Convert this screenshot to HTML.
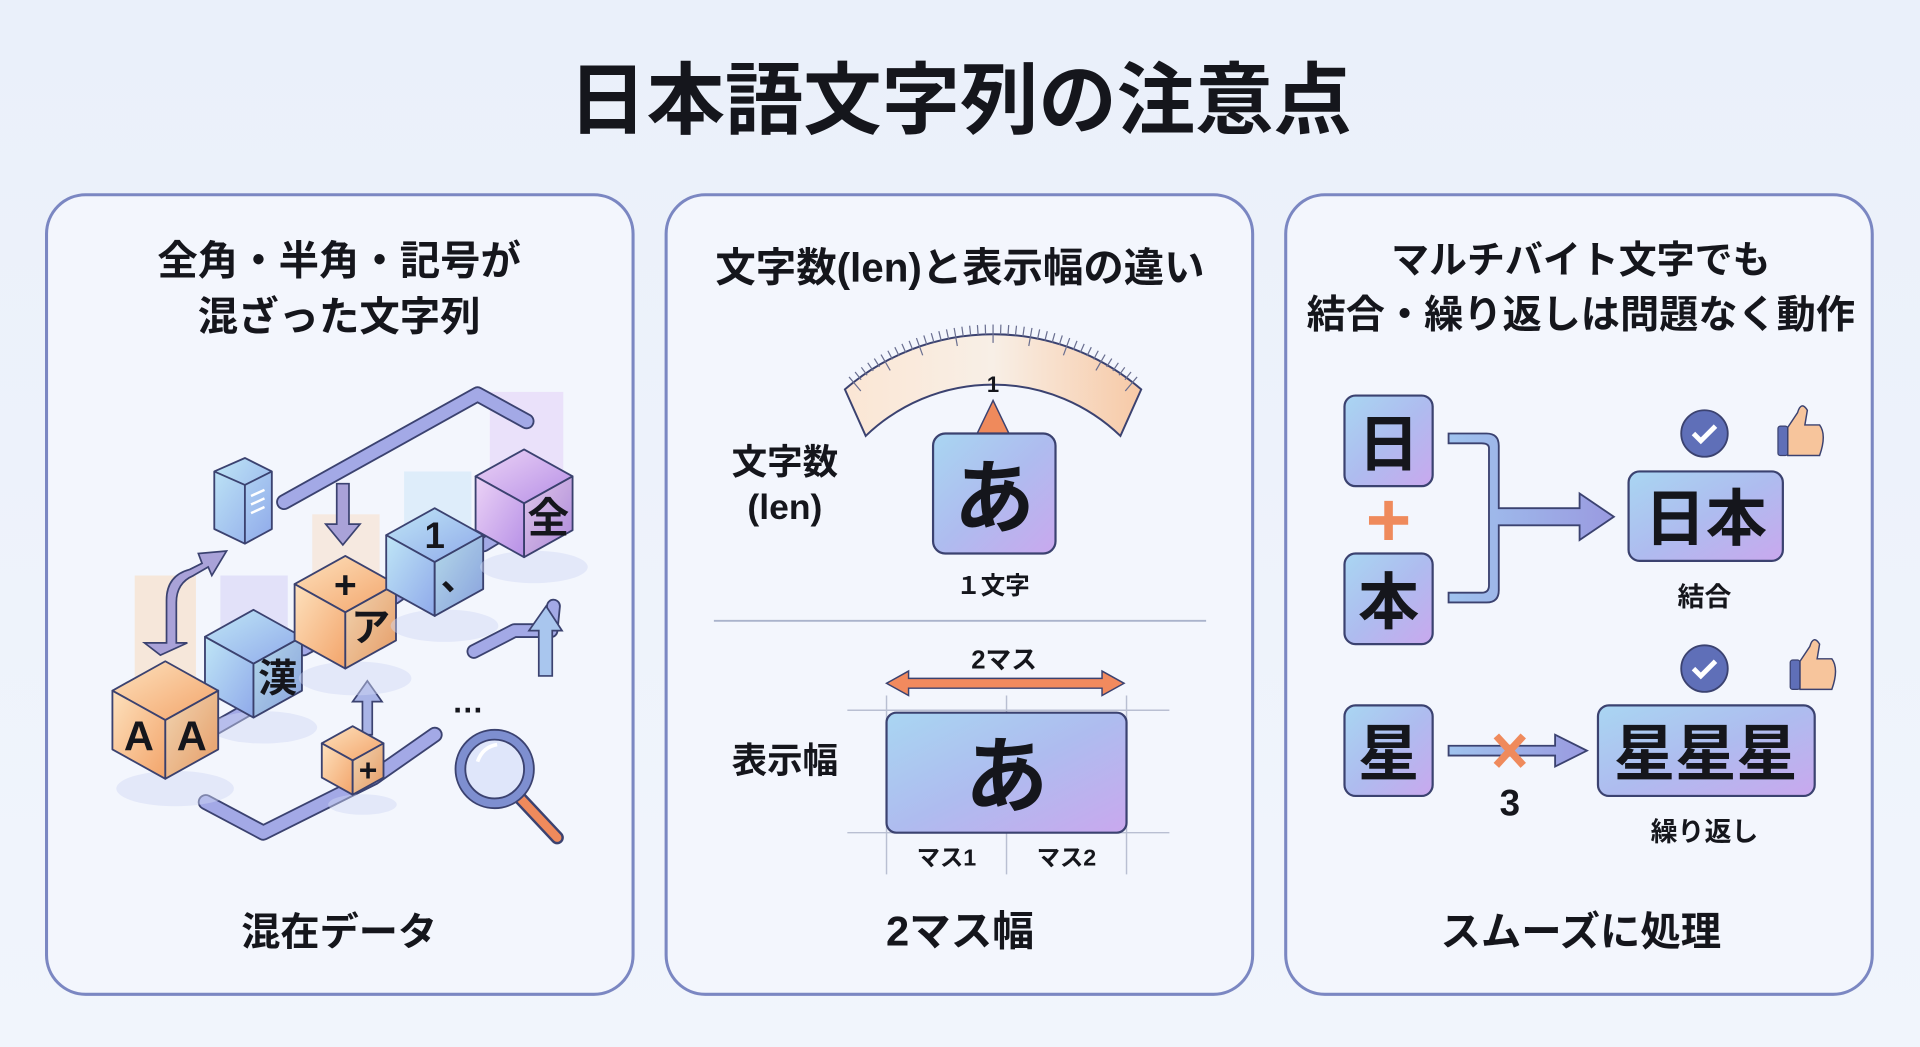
<!DOCTYPE html>
<html><head><meta charset="utf-8">
<style>
html,body{margin:0;padding:0;width:1920px;height:1047px;overflow:hidden;background:#eef3fb;}
svg{display:block}
text{font-family:"Liberation Sans","Noto Sans CJK JP",sans-serif;font-weight:bold;fill:#15161c}
</style></head><body>
<svg id="s" width="1920" height="1047" viewBox="0 0 1568 855" xmlns="http://www.w3.org/2000/svg">
<defs>
<linearGradient id="bg" x1="0" y1="0" x2="0" y2="1"><stop offset="0" stop-color="#eaf0fa"/><stop offset="1" stop-color="#f1f5fc"/></linearGradient>
<linearGradient id="box" x1="0" y1="0" x2="1" y2="1"><stop offset="0" stop-color="#a9d6f2"/><stop offset="0.5" stop-color="#aebcef"/><stop offset="1" stop-color="#c9a8ee"/></linearGradient>
<linearGradient id="gauge" x1="0" y1="0" x2="1" y2="0"><stop offset="0" stop-color="#fbe6d4"/><stop offset="0.5" stop-color="#f8efe6"/><stop offset="1" stop-color="#f7c9a6"/></linearGradient>
<linearGradient id="org" x1="0" y1="0" x2="1" y2="1"><stop offset="0" stop-color="#fde1bd"/><stop offset="1" stop-color="#f3a46a"/></linearGradient>
<linearGradient id="blu" x1="0" y1="0" x2="1" y2="1"><stop offset="0" stop-color="#bfe6f6"/><stop offset="1" stop-color="#8fa9ea"/></linearGradient>
<linearGradient id="pur" x1="0" y1="0" x2="1" y2="1"><stop offset="0" stop-color="#ecd3f6"/><stop offset="1" stop-color="#b68fe6"/></linearGradient>
<linearGradient id="pipe" x1="0" y1="0" x2="1" y2="0"><stop offset="0" stop-color="#9fc3ee"/><stop offset="1" stop-color="#9a9ae0"/></linearGradient>
</defs>
<rect width="1568" height="855" fill="url(#bg)"/>
<text x="784" y="104" font-size="64" text-anchor="middle">日本語文字列の注意点</text>

<g fill="#f3f6fd" stroke="#7b87c2" stroke-width="2.5">
<rect x="38" y="159" width="479" height="653" rx="32"/>
<rect x="544" y="159" width="479" height="653" rx="32"/>
<rect x="1050" y="159" width="479" height="653" rx="32"/>
</g>

<!-- panel 1 -->
<text x="277" y="224" font-size="33" text-anchor="middle">全角・半角・記号が</text>
<text x="277" y="270" font-size="33" text-anchor="middle">混ざった文字列</text>
<text x="277" y="772" font-size="32" text-anchor="middle">混在データ</text>
<g id="p1"></g>

<!-- panel 2 -->
<text x="784" y="230" font-size="33" text-anchor="middle">文字数(len)と表示幅の違い</text>
<text x="641" y="387" font-size="29" text-anchor="middle">文字数</text>
<text x="641" y="424" font-size="29" text-anchor="middle">(len)</text>
<path d="M690,318 A185,185 0 0 1 932,318 L915,356 A150,150 0 0 0 707,356 Z" fill="url(#gauge)" stroke="#3b4270" stroke-width="1.6"/>
<g id="ticks" stroke="#6a6f90" stroke-width="1"></g>
<text x="811" y="320" font-size="18" text-anchor="middle">1</text>
<polygon points="811,327 798,354 824,354" fill="#ef8a5c" stroke="#3b4270" stroke-width="1.2"/>
<rect x="762" y="354" width="100" height="98" rx="10" fill="url(#box)" stroke="#3b4270" stroke-width="1.8"/>
<text x="812" y="430" font-size="66" text-anchor="middle">あ</text>
<text x="811" y="485" font-size="20" text-anchor="middle">１文字</text>
<line x1="583" y1="507" x2="985" y2="507" stroke="#aab3cc" stroke-width="1.5"/>
<text x="820" y="546" font-size="21" text-anchor="middle">2マス</text>
<g stroke="#b9bfd2" stroke-width="1.2">
<line x1="724" y1="568" x2="724" y2="714"/><line x1="822" y1="568" x2="822" y2="714"/><line x1="920" y1="568" x2="920" y2="714"/>
<line x1="692" y1="580" x2="955" y2="580"/><line x1="692" y1="680" x2="955" y2="680"/>
</g>
<g fill="#f28a5e" stroke="#3b4270" stroke-width="1.2">
<path d="M724,558 L742,548 L742,554 L900,554 L900,548 L918,558 L900,568 L900,562 L742,562 L742,568 Z"/>
</g>
<rect x="724" y="582" width="196" height="98" rx="8" fill="url(#box)" stroke="#3b4270" stroke-width="1.8"/>
<text x="822" y="658" font-size="68" text-anchor="middle">あ</text>
<text x="773" y="707" font-size="19" text-anchor="middle">マス1</text>
<text x="871" y="707" font-size="19" text-anchor="middle">マス2</text>
<text x="641" y="631" font-size="29" text-anchor="middle">表示幅</text>
<text x="784" y="772" font-size="34" text-anchor="middle">2マス幅</text>

<!-- panel 3 -->
<text x="1291" y="223" font-size="31" text-anchor="middle">マルチバイト文字でも</text>
<text x="1291" y="268" font-size="32" text-anchor="middle">結合・繰り返しは問題なく動作</text>
<text x="1291" y="772" font-size="33" text-anchor="middle">スムーズに処理</text>
<g stroke="#3b4270" stroke-width="1.8" fill="url(#box)">
<rect x="1098" y="323" width="72" height="74" rx="9"/>
<rect x="1098" y="452" width="72" height="74" rx="9"/>
<rect x="1330" y="385" width="126" height="73" rx="9"/>
<rect x="1098" y="576" width="72" height="74" rx="9"/>
<rect x="1305" y="576" width="177" height="74" rx="9"/>
</g>
<text x="1134" y="380" font-size="50" text-anchor="middle">日</text>
<text x="1134" y="509" font-size="50" text-anchor="middle">本</text>
<text x="1393" y="441" font-size="50" text-anchor="middle">日本</text>
<text x="1134" y="633" font-size="50" text-anchor="middle">星</text>
<text x="1393" y="633" font-size="50" text-anchor="middle">星星星</text>
<path d="M1118,425 h32 M1134,409 v32" stroke="#ef8a5c" stroke-width="7"/>
<path d="M1183,354 H1214 Q1224,354 1224,364 V415 H1290 V403 L1318,422 L1290,441 V429 H1224 V482 Q1224,492 1214,492 H1183 V484 H1210 Q1216,484 1216,478 V366 Q1216,362 1210,362 H1183 Z" fill="url(#pipe)" stroke="#3b4270" stroke-width="1.5"/>
<path d="M1183,609 H1270 V600 L1296,613 L1270,626 V617 H1183 Z" fill="url(#pipe)" stroke="#3b4270" stroke-width="1.5"/>
<path d="M1222,601 L1244,625 M1244,601 L1222,625" stroke="#ef8a5c" stroke-width="6"/>
<text x="1233" y="666" font-size="30" text-anchor="middle">3</text>
<text x="1392" y="495" font-size="22" text-anchor="middle">結合</text>
<text x="1392" y="687" font-size="22" text-anchor="middle">繰り返し</text>
<g>
<circle cx="1392" cy="354" r="19" fill="#5f6fb8" stroke="#3b4270" stroke-width="1.5"/>
<path d="M1383,354 l6,6 l12,-12" stroke="#fff" stroke-width="4" fill="none"/>
<circle cx="1392" cy="546" r="19" fill="#5f6fb8" stroke="#3b4270" stroke-width="1.5"/>
<path d="M1383,546 l6,6 l12,-12" stroke="#fff" stroke-width="4" fill="none"/>
</g>
<g id="thumbs"></g>
</svg>
<script>
var NS="http://www.w3.org/2000/svg";
function el(p,t,a,txt){var e=document.createElementNS(NS,t);for(var k in a)e.setAttribute(k,a[k]);if(txt!==undefined)e.textContent=txt;p.appendChild(e);return e;}
var tk=document.getElementById('ticks');
var cx=811,cy=448;
for(var i=0;i<=40;i++){var ang=(-130+i*2)*Math.PI/180;var r1=183,r2=(i%5==0)?168:175;
 el(tk,'line',{x1:cx+r1*Math.cos(ang),y1:cy+r1*Math.sin(ang),x2:cx+r2*Math.cos(ang),y2:cy+r2*Math.sin(ang)});}
var th=document.getElementById('thumbs');
[[1468,355],[1478,546]].forEach(function(p){var x=p[0],y=p[1];
 el(th,'rect',{x:x-16,y:y-7,width:8,height:24,rx:2,fill:'#5f6fb8',stroke:'#3b4270','stroke-width':1});
 el(th,'path',{d:'M'+(x-8)+','+(y-6)+' L'+(x)+','+(y-18)+' Q'+(x+3)+','+(y-28)+' '+(x+8)+','+(y-20)+' L'+(x+6)+','+(y-8)+' L'+(x+18)+','+(y-8)+' Q'+(x+24)+','+(y)+' '+(x+18)+','+(y+17)+' L'+(x-8)+','+(y+17)+' Z',fill:'#f7c59c',stroke:'#3b4270','stroke-width':1.2});
});
var g=document.getElementById('p1');
var st={stroke:'#3b4270','stroke-width':1.5,'stroke-linejoin':'round'};
function pipe(d,w){el(g,'path',{d:d,fill:'none',stroke:'#3b4270','stroke-width':w+3,'stroke-linecap':'round','stroke-linejoin':'round'});el(g,'path',{d:d,fill:'none',stroke:'#a3a9e6','stroke-width':w,'stroke-linecap':'round','stroke-linejoin':'round'});}
[[110,470,50,130,'#f9d2a6'],[180,470,55,90,'#c9c2f2'],[255,420,55,90,'#f9d8b4'],[330,385,55,80,'#bfe1f6'],[400,320,60,100,'#dcc4f6']].forEach(function(q){el(g,'rect',{x:q[0],y:q[1],width:q[2],height:q[3],fill:q[4],opacity:0.4});});
pipe('M232,410 L390,322 L430,344',10);
pipe('M168,655 L215,680 L305,635 L355,600',10);
pipe('M387,532 L420,515 L450,515 L452,495',9);
el(g,'path',{d:'M275,395 V428 H266 L280,445 L294,428 H285 V395 Z',fill:'#a9a2d8',stroke:'#3b4270','stroke-width':1.4});
el(g,'path',{d:'M296,600 V573 H288 L300,556 L312,573 H304 V600 Z',fill:'#a9b4e6',stroke:'#3b4270','stroke-width':1.4});
el(g,'path',{d:'M136,525 V490 Q136,470 155,465 L165,460 L162,452 L185,450 L173,470 L170,463 L158,470 Q144,476 144,492 V525 H153 L131,535 L118,525 Z',fill:'#a9a2d8',stroke:'#3b4270','stroke-width':1.4});
el(g,'path',{d:'M440,552 V515 H432 L446,495 L459,515 H451 V552 Z',fill:'#a9c6ee',stroke:'#3b4270','stroke-width':1.4});
pipe('M175,595 L210,575',9);pipe('M248,530 L285,510',9);pipe('M322,488 L355,465',9);pipe('M395,445 L428,425',9);
function cube(cx,cy,s,fill,top,right,left,fs){
 var h=s*0.9;
 el(g,'ellipse',{cx:cx+8,cy:cy+s+8,rx:s*1.0,ry:s*0.3,fill:'#d0d7f3',opacity:0.45});
 el(g,'polygon',Object.assign({points:[cx,cy-s,cx+h,cy-s/2,cx,cy,cx-h,cy-s/2].join(','),fill:fill},st));
 el(g,'polygon',Object.assign({points:[cx-h,cy-s/2,cx,cy,cx,cy+s,cx-h,cy+s/2].join(','),fill:fill},st));
 el(g,'polygon',Object.assign({points:[cx,cy,cx+h,cy-s/2,cx+h,cy+s/2,cx,cy+s].join(','),fill:fill},st));
 el(g,'polygon',{points:[cx,cy,cx+h,cy-s/2,cx+h,cy+s/2,cx,cy+s].join(','),fill:'#000',opacity:0.05});
 var f=fs||s*0.75;
 if(top)el(g,'text',{x:cx,y:cy-s/2+f*0.35,'font-size':f,'text-anchor':'middle',fill:'#23274a'},top);
 if(right)el(g,'text',{x:cx+h/2,y:cy+s/4+f*0.38,'font-size':f,'text-anchor':'middle',fill:'#23274a'},right);
 if(left)el(g,'text',{x:cx-h/2,y:cy+s/4+f*0.38,'font-size':f,'text-anchor':'middle',fill:'#23274a'},left);
}
el(g,'polygon',Object.assign({points:'175,385 200,374 222,385 222,432 200,444 175,432',fill:'url(#blu)'},st));
el(g,'polyline',Object.assign({points:'175,385 200,396 222,385',fill:'none'},st));
el(g,'line',Object.assign({x1:200,y1:396,x2:200,y2:444},st));
el(g,'path',{d:'M205,405 l11,-5 M205,412 l11,-5 M205,419 l11,-5',stroke:'#fff','stroke-width':2});
cube(207,542,44,'url(#blu)',null,'漢',null,32);
cube(282,500,46,'url(#org)','+','ア',null,32);
cube(355,459,44,'url(#blu)','1','、',null,30);
cube(428,411,44,'url(#pur)',null,'全',null,34);
cube(135,588,48,'url(#org)',null,'A','A',34);
cube(288,621,28,'url(#org)',null,'+',null,26);
el(g,'text',{x:382,y:582,'font-size':26,'text-anchor':'middle',fill:'#23274a'},'…');
el(g,'line',{x1:425,y1:652,x2:455,y2:684,stroke:'#3b4270','stroke-width':11,'stroke-linecap':'round'});
el(g,'line',{x1:425,y1:652,x2:455,y2:684,stroke:'#ef8a5c','stroke-width':7,'stroke-linecap':'round'});
el(g,'circle',{cx:404,cy:628,r:32,fill:'#7e8fd0',stroke:'#3b4270','stroke-width':1.5});
el(g,'circle',{cx:404,cy:628,r:24,fill:'#dfe6fa',stroke:'#3b4270','stroke-width':1.5});
el(g,'path',{d:'M390,622 Q394,610 406,608',stroke:'#fff','stroke-width':3,fill:'none'});
</script>
</body></html>
